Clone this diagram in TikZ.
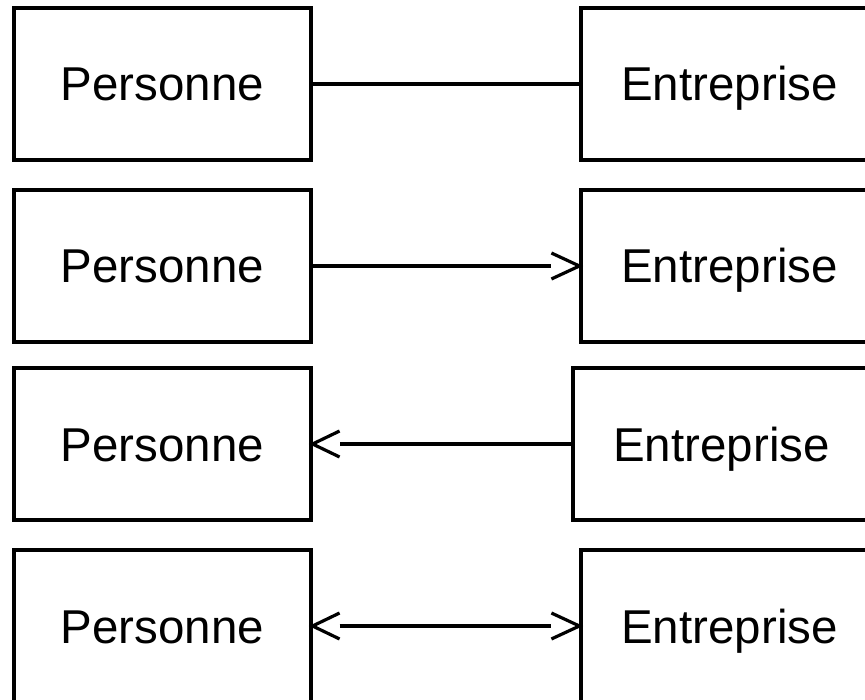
\documentclass[tikz,border=0pt]{standalone}
\usepackage{fontspec}
\setmainfont{Liberation Sans}
\begin{document}
\begin{tikzpicture}[x=1pt,y=-1pt,
  entity/.style={draw=black,line width=3.2pt,minimum width=297pt,minimum height=152pt,
    inner sep=0pt,font=\fontsize{47.5pt}{52pt}\selectfont,text height=34pt,text depth=0pt},
  conn/.style={line width=3.2pt},
  barb/.style={line width=3.2pt,line cap=butt,line join=miter}]
\useasboundingbox (0,0) rectangle (865,700);
% row 1
\node[entity] (p1) at (162.5,84) {Personne};
\node[entity] (e1) at (729.5,84) {Entreprise};
\draw[conn] (p1.east) -- (e1.west);
% row 2
\node[entity] (p2) at (162.5,266) {Personne};
\node[entity] (e2) at (729.5,266) {Entreprise};
\draw[conn,shorten >=28pt] (p2.east) -- (e2.west);
\draw[barb] (e2.west) ++(-28,-13) -- (e2.west) -- ++(-28,13);
% row 3
\node[entity] (p3) at (162.5,444) {Personne};
\node[entity] (e3) at (721.5,444) {Entreprise};
\draw[conn,shorten >=27pt] (e3.west) -- (p3.east);
\draw[barb] (p3.east) ++(27,-13) -- (p3.east) -- ++(27,13);
% row 4
\node[entity] (p4) at (162.5,626) {Personne};
\node[entity] (e4) at (729.5,626) {Entreprise};
\draw[conn,shorten <=27pt,shorten >=28pt] (p4.east) -- (e4.west);
\draw[barb] (p4.east) ++(27,-13) -- (p4.east) -- ++(27,13);
\draw[barb] (e4.west) ++(-28,-13) -- (e4.west) -- ++(-28,13);
\end{tikzpicture}
\end{document}
